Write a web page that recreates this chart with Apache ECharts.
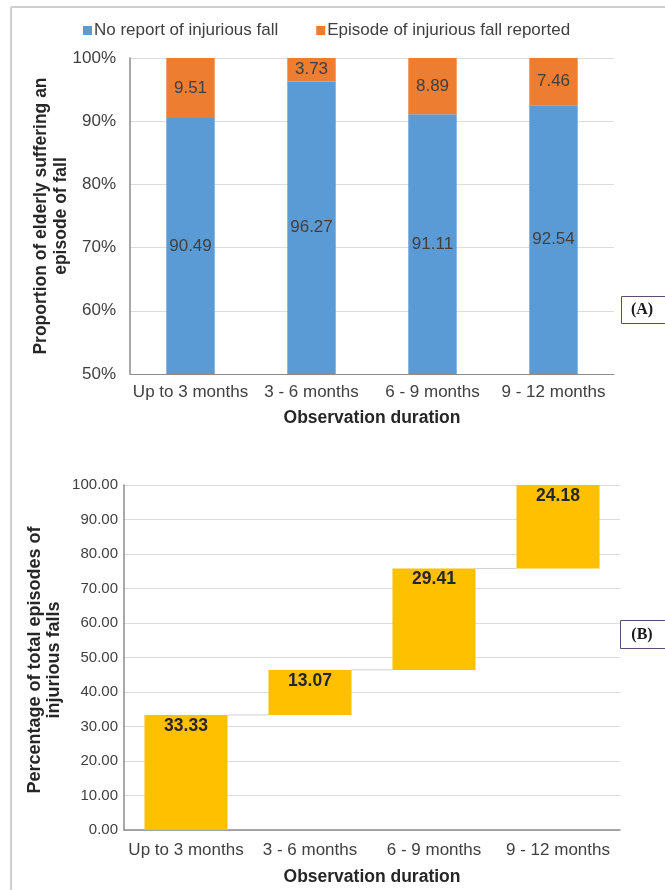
<!DOCTYPE html>
<html>
<head>
<meta charset="utf-8">
<script src="https://cdn.jsdelivr.net/npm/echarts@6/dist/echarts.min.js"></script>
<style>
  html, body { margin: 0; padding: 0; background: #ffffff; }
  #chart { width: 665px; height: 890px; }
</style>
</head>
<body>
<div id="chart"></div>
<script>
// Observation periods shared by both panels
var periods = ['Up to 3 months', '3 - 6 months', '6 - 9 months', '9 - 12 months'];

// Panel A: share of elderly with / without an injurious fall (%)
var noFall = [90.49, 96.27, 91.11, 92.54];
var fallReported = [9.51, 3.73, 8.89, 7.46];
var seriesNamesA = ['No report of injurious fall', 'Episode of injurious fall reported'];

// Panel B: share of all injurious-fall episodes occurring in each period (%)
var episodeShare = [33.33, 13.07, 29.41, 24.18];

// Running total below each waterfall step
var stepBase = [];
(function () {
  var run = 0;
  for (var i = 0; i < episodeShare.length; i++) {
    stepBase.push(Math.round(run * 100) / 100);
    run += episodeShare[i];
  }
})();

var FONT = '"Liberation Sans", Arial, sans-serif';
var barWidthB = 0.67;

var chart = echarts.init(document.getElementById('chart'), null, { renderer: 'canvas' });

var option = {
  animation: false,
  backgroundColor: '#ffffff',
  textStyle: { fontFamily: FONT },
  legend: {
    data: seriesNamesA,
    left: 78,
    top: 17,
    itemWidth: 9,
    itemHeight: 9,
    itemGap: 38,
    icon: 'rect',
    textStyle: { fontSize: 17, color: '#404040', fontFamily: FONT, padding: [0, 0, 0, -3] }
  },
  grid: [
    { left: 130, top: 58, width: 484, height: 316 },
    { left: 124, top: 485, width: 496, height: 345 }
  ],
  xAxis: [
    {
      type: 'category', gridIndex: 0, data: periods,
      axisLine: { lineStyle: { color: '#8c8c8c', width: 1 } },
      axisTick: { show: false },
      axisLabel: { color: '#404040', fontSize: 17, margin: 10, fontFamily: FONT, interval: 0 }
    },
    {
      type: 'category', gridIndex: 1, data: periods,
      axisLine: { lineStyle: { color: '#8c8c8c', width: 1.5 } },
      axisTick: { show: false },
      axisLabel: { color: '#404040', fontSize: 17, margin: 12, fontFamily: FONT, interval: 0 }
    }
  ],
  yAxis: [
    {
      type: 'value', gridIndex: 0, min: 50, max: 100, interval: 10,
      axisLine: { show: true, lineStyle: { color: '#8c8c8c', width: 1.5 } },
      axisTick: { show: false },
      splitLine: { lineStyle: { color: '#dcdcdc', width: 1 } },
      axisLabel: { formatter: '{value}%', color: '#404040', fontSize: 17, margin: 14, fontFamily: FONT }
    },
    {
      type: 'value', gridIndex: 1, min: 0, max: 100, interval: 10,
      axisLine: { show: true, lineStyle: { color: '#8c8c8c', width: 1.5 } },
      axisTick: { show: false },
      splitLine: { lineStyle: { color: '#dcdcdc', width: 1 } },
      axisLabel: {
        formatter: function (v) { return v.toFixed(2); },
        color: '#404040', fontSize: 15, margin: 6, fontFamily: FONT
      }
    }
  ],
  series: [
    {
      name: seriesNamesA[0], type: 'bar', stack: 'a',
      xAxisIndex: 0, yAxisIndex: 0,
      barWidth: '40%',
      data: noFall,
      itemStyle: { color: '#5B9BD5' },
      label: { show: true, position: 'inside', color: '#404040', fontSize: 17, fontFamily: FONT,
        formatter: function (p) { return p.value.toFixed(2); } }
    },
    {
      name: seriesNamesA[1], type: 'bar', stack: 'a',
      xAxisIndex: 0, yAxisIndex: 0,
      barWidth: '40%',
      data: fallReported,
      itemStyle: { color: '#ED7D31' },
      label: { show: true, position: 'inside', color: '#404040', fontSize: 17, fontFamily: FONT,
        formatter: function (p) { return p.value.toFixed(2); } }
    },
    {
      name: 'base', type: 'bar', stack: 'b',
      xAxisIndex: 1, yAxisIndex: 1,
      barWidth: (barWidthB * 100) + '%',
      data: stepBase,
      itemStyle: { color: 'rgba(0,0,0,0)' },
      silent: true
    },
    {
      name: 'Share of episodes', type: 'bar', stack: 'b',
      xAxisIndex: 1, yAxisIndex: 1,
      barWidth: (barWidthB * 100) + '%',
      data: episodeShare,
      itemStyle: { color: '#FFC000' },
      label: { show: true, position: 'insideTop', distance: 2, color: '#262626', fontSize: 17.5,
        fontWeight: 'bold', fontFamily: FONT,
        formatter: function (p) { return p.value.toFixed(2); } }
    },
    {
      // connector lines joining the top of each step to the next step
      name: 'connectors', type: 'custom',
      xAxisIndex: 1, yAxisIndex: 1,
      data: episodeShare.slice(0, -1).map(function (v, i) { return [i, stepBase[i] + v]; }),
      renderItem: function (params, api) {
        var i = api.value(0), level = api.value(1);
        var a = api.coord([i, level]);
        var b = api.coord([i + 1, level]);
        var half = api.size([1, 0])[0] * barWidthB / 2;
        return {
          type: 'line',
          shape: { x1: a[0] + half, y1: a[1], x2: b[0] - half, y2: b[1] },
          style: { stroke: '#d0d0d0', lineWidth: 1 }
        };
      },
      z: 3
    }
  ],
  graphic: [
    // outer frame
    { type: 'line', shape: { x1: 11, y1: 7, x2: 665, y2: 7 }, style: { stroke: '#cfcfcf', lineWidth: 2 } },
    { type: 'line', shape: { x1: 11, y1: 7, x2: 11, y2: 890 }, style: { stroke: '#cfcfcf', lineWidth: 2 } },
    // axis titles, panel A
    { type: 'text', x: 51, y: 216, rotation: Math.PI / 2,
      style: { text: 'Proportion of elderly suffering an\nepisode of fall', fill: '#262626',
        font: 'bold 17.5px ' + FONT, align: 'center', verticalAlign: 'middle', lineHeight: 20 } },
    { type: 'text', x: 372, y: 418,
      style: { text: 'Observation duration', fill: '#262626', font: 'bold 17.5px ' + FONT,
        align: 'center', verticalAlign: 'middle' } },
    // axis titles, panel B
    { type: 'text', x: 45, y: 660, rotation: Math.PI / 2,
      style: { text: 'Percentage of total episodes of\ninjurious falls', fill: '#262626',
        font: 'bold 18px ' + FONT, align: 'center', verticalAlign: 'middle', lineHeight: 19 } },
    { type: 'text', x: 372, y: 877,
      style: { text: 'Observation duration', fill: '#262626', font: 'bold 17.5px ' + FONT,
        align: 'center', verticalAlign: 'middle' } },
    // panel tags
    { type: 'rect', shape: { x: 621.5, y: 296.5, width: 46, height: 27 },
      style: { fill: '#ffffff', stroke: '#5a4d70', lineWidth: 1 } },
    { type: 'text', x: 642, y: 310,
      style: { text: '(A)', fill: '#1a1a1a', font: 'bold 16px "Liberation Serif", "Times New Roman", serif',
        align: 'center', verticalAlign: 'middle' } },
    { type: 'rect', shape: { x: 620.5, y: 620.5, width: 46, height: 28 },
      style: { fill: '#ffffff', stroke: '#5a4d70', lineWidth: 1 } },
    { type: 'text', x: 642, y: 635,
      style: { text: '(B)', fill: '#1a1a1a', font: 'bold 16px "Liberation Serif", "Times New Roman", serif',
        align: 'center', verticalAlign: 'middle' } }
  ]
};

chart.setOption(option);
</script>
</body>
</html>
